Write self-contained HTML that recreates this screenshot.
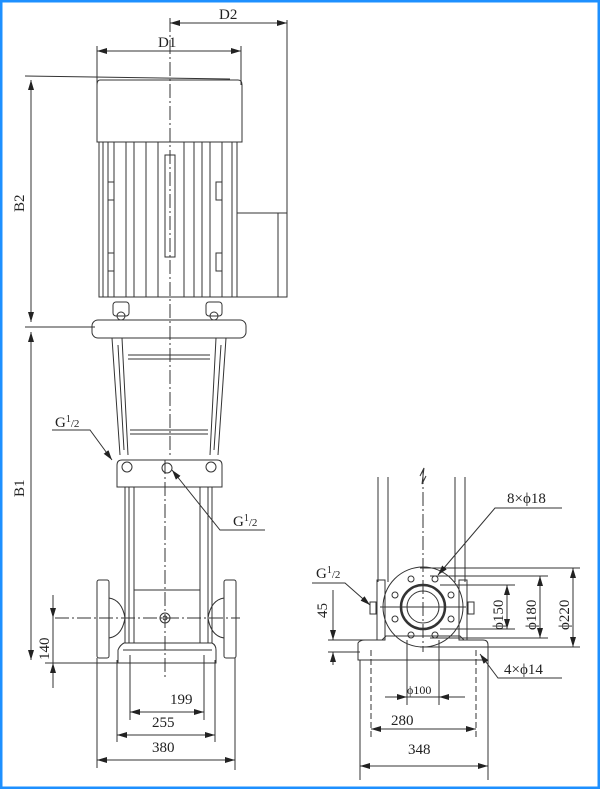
<!DOCTYPE html>
<html><head><meta charset="utf-8"><style>
html,body{margin:0;padding:0;background:#fff}
svg{display:block}
text{font-family:"Liberation Serif",serif;fill:#222}
</style></head><body>
<svg width="600" height="789" viewBox="0 0 600 789" xmlns="http://www.w3.org/2000/svg">
<defs>
<marker id="a" viewBox="0 0 10 6" refX="10" refY="3" markerWidth="10" markerHeight="6" orient="auto-start-reverse" markerUnits="userSpaceOnUse"><path d="M0,0L10,3L0,6z" fill="#222"/></marker>
</defs>
<rect x="1" y="1" width="598" height="787" fill="#fff" stroke="#1e90ff" stroke-width="3"/>
<g stroke="#333" stroke-width="1" fill="none">
<!-- center line -->
<line x1="170" y1="18" x2="170" y2="455" stroke-dasharray="14,3,2,3"/>
<line x1="165" y1="460" x2="165" y2="680" stroke-dasharray="14,3,2,3"/>
<!-- D2, D1 -->
<line x1="170" y1="23" x2="287" y2="23" marker-start="url(#a)" marker-end="url(#a)"/>
<line x1="287" y1="20" x2="287" y2="297"/>
<line x1="97" y1="51" x2="241" y2="51" marker-start="url(#a)" marker-end="url(#a)"/>
<line x1="97" y1="46" x2="97" y2="85"/><line x1="241" y1="46" x2="241" y2="85"/>
<!-- motor cap -->
<path d="M100,80 L238,80 Q242,80 242,85 L242,142 L97,142 L97,85 Q97,80 100,80z"/>
<line x1="25" y1="76" x2="230" y2="79"/>
<!-- motor body -->
<rect x="99" y="142" width="138" height="155"/>
<line x1="103" y1="142" x2="103" y2="297"/><line x1="108" y1="142" x2="108" y2="297"/>
<line x1="114" y1="142" x2="114" y2="297"/><line x1="126" y1="142" x2="126" y2="297"/>
<line x1="134" y1="142" x2="134" y2="297"/><line x1="146" y1="142" x2="146" y2="297"/>
<line x1="158" y1="142" x2="158" y2="297"/><line x1="184" y1="142" x2="184" y2="297"/>
<line x1="194" y1="142" x2="194" y2="297"/><line x1="202" y1="142" x2="202" y2="297"/>
<line x1="210" y1="142" x2="210" y2="297"/><line x1="222" y1="142" x2="222" y2="297"/>
<line x1="232" y1="142" x2="232" y2="297"/>
<rect x="108" y="182" width="6" height="18"/><rect x="108" y="253" width="6" height="18"/>
<rect x="216" y="182" width="6" height="18"/><rect x="216" y="253" width="6" height="18"/>
<rect x="165" y="155" width="10" height="102"/>
<!-- terminal box -->
<path d="M237,213 L287,213 L287,297 L237,297"/>
<line x1="278" y1="213" x2="278" y2="297"/>
<!-- B2, B1 -->
<line x1="31" y1="80" x2="31" y2="322" marker-start="url(#a)" marker-end="url(#a)"/>
<line x1="31" y1="332" x2="31" y2="660" marker-start="url(#a)" marker-end="url(#a)"/>
<line x1="25" y1="327" x2="95" y2="327"/>
<!-- bolt blocks -->
<rect x="113" y="302" width="16" height="14" rx="3"/><rect x="206" y="302" width="16" height="14" rx="3"/>
<circle cx="121" cy="316" r="4"/><circle cx="214" cy="316" r="4"/>
<!-- flange -->
<rect x="92" y="320" width="154" height="18" rx="6"/>
<!-- bracket legs -->
<path d="M112,338 L120,455 M122,338 L128,455 M226,338 L218,455 M216,338 L210,455"/>
<path d="M118,345 L124,450 M221,345 L214,450"/>
<line x1="128" y1="355" x2="210" y2="355"/><line x1="128" y1="359" x2="210" y2="359"/>
<line x1="130" y1="430" x2="208" y2="430"/><line x1="130" y1="434" x2="208" y2="434"/>
<!-- lower bracket head -->
<path d="M117,487 L117,465 Q117,460 122,460 L217,460 Q222,460 222,465 L222,487z"/>
<circle cx="167" cy="468" r="5"/>
<circle cx="127" cy="467" r="5"/><circle cx="211" cy="467" r="5"/>
<!-- column -->
<line x1="125" y1="487" x2="125" y2="643"/><line x1="129" y1="487" x2="129" y2="643"/>
<line x1="134" y1="487" x2="134" y2="643"/>
<line x1="212" y1="487" x2="212" y2="643"/><line x1="208" y1="487" x2="208" y2="643"/>
<line x1="200" y1="487" x2="200" y2="643"/>
<line x1="134" y1="590" x2="200" y2="590"/>
<!-- inlet/outlet flanges -->
<rect x="97" y="580" width="12" height="78" rx="2"/>
<rect x="224" y="580" width="12" height="78" rx="2"/>
<path d="M109,598 Q122,600 125,618 Q122,636 109,638"/>
<path d="M224,598 Q211,600 208,618 Q211,636 224,638"/>
<line x1="55" y1="618" x2="240" y2="618" stroke-dasharray="14,3,2,3"/>
<circle cx="165" cy="618" r="5"/><circle cx="165" cy="618" r="2"/>
<!-- base -->
<path d="M118,663 L118,650 Q120,645 124,643 L212,643 Q216,645 216,650 L216,663z"/>
<line x1="123" y1="650" x2="212" y2="650"/>
<!-- 140 -->
<line x1="45" y1="663" x2="118" y2="663"/>
<line x1="53" y1="595" x2="53" y2="618" marker-end="url(#a)"/>
<line x1="53" y1="688" x2="53" y2="663" marker-end="url(#a)"/>
<line x1="53" y1="618" x2="53" y2="663"/>
<!-- bottom dims -->
<line x1="130" y1="655" x2="130" y2="720"/><line x1="204" y1="655" x2="204" y2="720"/>
<line x1="117" y1="660" x2="117" y2="742"/><line x1="215" y1="660" x2="215" y2="742"/>
<line x1="97" y1="658" x2="97" y2="768"/><line x1="235" y1="658" x2="235" y2="770"/>
<line x1="130" y1="712" x2="204" y2="712" marker-start="url(#a)" marker-end="url(#a)"/>
<line x1="117" y1="735" x2="215" y2="735" marker-start="url(#a)" marker-end="url(#a)"/>
<line x1="97" y1="760" x2="235" y2="760" marker-start="url(#a)" marker-end="url(#a)"/>
<!-- G1/2 leaders left -->
<path d="M52,430 L90,430 L112,460" marker-end="url(#a)"/>
<path d="M265,530 L220,530 L172,470" marker-end="url(#a)"/>

<!-- RIGHT VIEW -->
<line x1="378" y1="477" x2="378" y2="582"/><line x1="388" y1="477" x2="388" y2="582"/>
<line x1="455" y1="477" x2="455" y2="582"/><line x1="465" y1="477" x2="465" y2="582"/>
<line x1="423" y1="470" x2="423" y2="652" stroke-dasharray="14,3,2,3"/>
<path d="M420,476 L424,468 L422,484 L426,476"/>
<rect x="377" y="580" width="8" height="60"/><rect x="459" y="580" width="8" height="60"/>
<rect x="370" y="602" width="6" height="12"/><rect x="468" y="602" width="6" height="12"/>
<circle cx="423" cy="607" r="40"/>
<circle cx="423" cy="607" r="22" stroke-width="2.5"/>
<circle cx="423" cy="607" r="16"/>
<line x1="380" y1="607" x2="466" y2="607"/>
<g>
<circle cx="435" cy="579" r="3"/><circle cx="451" cy="595" r="3"/><circle cx="451" cy="619" r="3"/><circle cx="435" cy="635" r="3"/>
<circle cx="411" cy="635" r="3"/><circle cx="395" cy="619" r="3"/><circle cx="395" cy="595" r="3"/><circle cx="411" cy="579" r="3"/>
</g>
<path d="M358,660 L358,643 Q360,640 365,640 L382,640 L386,636 L460,636 L464,640 L483,640 Q488,640 488,645 L488,660z"/>
<!-- dims right -->
<line x1="360" y1="660" x2="360" y2="780"/><line x1="488" y1="660" x2="488" y2="780"/>
<line x1="371" y1="650" x2="371" y2="740" stroke-dasharray="6,3"/><line x1="476" y1="650" x2="476" y2="740" stroke-dasharray="6,3"/>
<line x1="407" y1="640" x2="407" y2="705"/><line x1="439" y1="640" x2="439" y2="705"/>
<line x1="385" y1="697" x2="407" y2="697" marker-end="url(#a)"/>
<line x1="465" y1="697" x2="439" y2="697" marker-end="url(#a)"/>
<line x1="407" y1="697" x2="439" y2="697"/>
<line x1="371" y1="729" x2="476" y2="729" marker-start="url(#a)" marker-end="url(#a)"/>
<line x1="360" y1="766" x2="488" y2="766" marker-start="url(#a)" marker-end="url(#a)"/>
<line x1="420" y1="568" x2="580" y2="568"/><line x1="420" y1="647" x2="580" y2="647"/>
<line x1="430" y1="576" x2="548" y2="576"/><line x1="430" y1="638" x2="548" y2="638"/>
<line x1="440" y1="585" x2="515" y2="585"/><line x1="440" y1="629" x2="515" y2="629"/>
<line x1="507" y1="585" x2="507" y2="629" marker-start="url(#a)" marker-end="url(#a)"/>
<line x1="540" y1="576" x2="540" y2="638" marker-start="url(#a)" marker-end="url(#a)"/>
<line x1="573" y1="568" x2="573" y2="647" marker-start="url(#a)" marker-end="url(#a)"/>
<!-- 45 -->
<line x1="328" y1="640" x2="365" y2="640"/><line x1="328" y1="652" x2="360" y2="652"/>
<line x1="333" y1="590" x2="333" y2="640" marker-end="url(#a)"/>
<line x1="333" y1="665" x2="333" y2="652" marker-end="url(#a)"/>
<!-- leaders -->
<path d="M562,508 L495,508 L438,575" marker-end="url(#a)"/>
<path d="M312,583 L345,583 L370,605" marker-end="url(#a)"/>
<path d="M562,678 L498,678 L480,654" marker-end="url(#a)"/>
</g>
<g font-size="15">
<text x="219" y="19">D2</text>
<text x="158" y="47">D1</text>
<text x="170" y="704">199</text>
<text x="152" y="727">255</text>
<text x="152" y="752">380</text>
<text x="391" y="725">280</text>
<text x="408" y="754">348</text>
<text x="507" y="503">8×ϕ18</text>
<text x="504" y="674">4×ϕ14</text>
<text x="407" y="694" font-size="12">ϕ100</text>
<text transform="translate(24,212) rotate(-90)">B2</text>
<text transform="translate(24,497) rotate(-90)">B1</text>
<text transform="translate(49,660) rotate(-90)">140</text>
<text transform="translate(327,618) rotate(-90)">45</text>
<text transform="translate(503,630) rotate(-90)">ϕ150</text>
<text transform="translate(536,630) rotate(-90)">ϕ180</text>
<text transform="translate(569,630) rotate(-90)">ϕ220</text>
<text x="55" y="427">G<tspan font-size="10" dy="-5">1</tspan><tspan font-size="11" dy="5">/2</tspan></text>
<text x="233" y="526">G<tspan font-size="10" dy="-5">1</tspan><tspan font-size="11" dy="5">/2</tspan></text>
<text x="316" y="578">G<tspan font-size="10" dy="-5">1</tspan><tspan font-size="11" dy="5">/2</tspan></text>
</g>
</svg>
</body></html>
